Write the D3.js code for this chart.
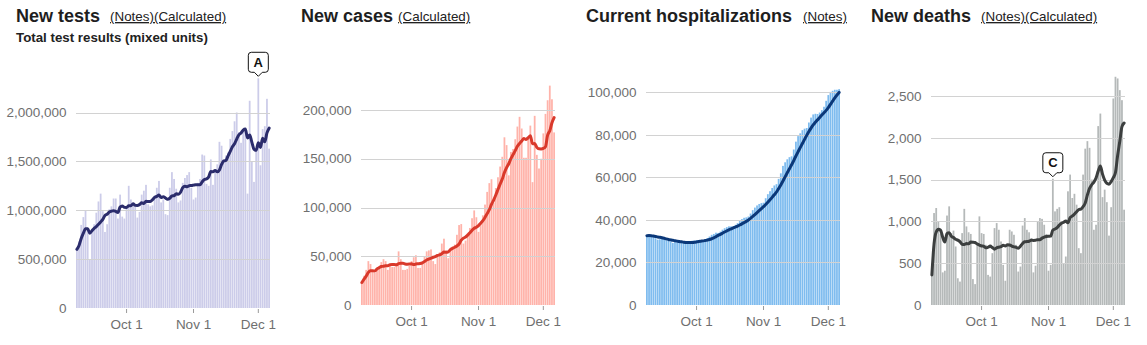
<!DOCTYPE html>
<html><head><meta charset="utf-8">
<script src="https://cdn.jsdelivr.net/npm/d3@7"></script>
<style>
body{margin:0;background:#fff;}
svg text{font-family:"Liberation Sans",Arial,Helvetica,sans-serif;}
</style></head><body>
<svg id="chart" width="1147" height="345"></svg>
<script>
// ---------- DATA ----------
const dates = d3.timeDay.range(new Date(2020, 8, 8), new Date(2020, 11, 7)); // Sep 8 – Dec 6, 2020
const xTickDates = [new Date(2020, 9, 1), new Date(2020, 10, 1), new Date(2020, 11, 1)];
const xTickLabels = ["Oct 1", "Nov 1", "Dec 1"];

const newTests = [600000, 680000, 850000, 930000, 1000000, 800000, 500000,
 770000, 857000, 975000, 1090000, 1170000, 990000, 778000,
 857000, 1010000, 1040000, 1120000, 1120000, 915000, 1160000,
 935000, 915000, 1030000, 1250000, 1110000, 1070000, 1040000,
 925000, 983000, 1160000, 1200000, 1260000, 1060000, 1040000,
 1050000, 1150000, 1230000, 1300000, 1080000, 1110000, 960000,
 950000, 1230000, 1390000, 1320000, 1220000, 1080000, 1100000,
 1280000, 1330000, 1360000, 1390000, 1230000, 1110000, 1130000,
 1280000, 1320000, 1570000, 1560000, 1270000, 1250000, 1520000,
 1260000, 1420000, 1470000, 1700000, 1660000, 1500000, 1560000,
 1590000, 1730000, 1810000, 1910000, 2000000, 1800000, 1690000,
 1800000, 1800000, 1170000, 2120000, 1500000, 1290000, 1610000,
 2350000, 1460000, 1830000, 1860000, 2140000, 1630000];

const newCases = [23000, 30000, 36000, 45000, 42000, 35000, 33000,
 38000, 39000, 44000, 47000, 45000, 36000, 40000,
 39000, 39000, 43000, 55000, 47000, 36000, 36000,
 37000, 40000, 45000, 49000, 51000, 38000, 38000,
 42000, 50000, 55000, 56000, 57000, 45000, 42000,
 51000, 54000, 63000, 68000, 56000, 48000, 58000,
 60000, 62000, 72000, 82000, 83000, 63000, 66000,
 74000, 79000, 89000, 97000, 90000, 75000, 83000,
 92000, 103000, 116000, 125000, 129000, 105000, 120000,
 131000, 142000, 152000, 172000, 164000, 133000, 157000,
 160000, 170000, 183000, 193000, 181000, 151000, 151000,
 172000, 184000, 126000, 194000, 154000, 140000, 150000,
 176000, 196000, 210000, 225000, 211000, 177000];

const currentHosp = [32600, 32700, 32500, 32000, 31400, 30700, 30900,
 31200, 30900, 30500, 30200, 29900, 29200, 29600,
 29900, 29600, 29400, 29200, 29000, 28900, 29600,
 30200, 30300, 30500, 30500, 30000, 29900, 30900,
 31500, 32200, 33000, 33400, 34000, 33900, 34500,
 35400, 36100, 36600, 37000, 37000, 36900, 37700,
 38500, 39500, 40400, 41000, 41200, 41600, 43000,
 44600, 45800, 46800, 47500, 47900, 48100, 50200,
 52100, 53500, 55000, 56200, 56800, 59300, 61900,
 65400, 67100, 68500, 69500, 69900, 73100, 76800,
 79400, 80700, 82200, 82900, 83200, 85800, 88100,
 89600, 89900, 89800, 90500, 91600, 93200, 96000,
 98700, 100200, 100700, 101200, 101200, 101500];

const newDeaths = [360, 1100, 1160, 1000, 850, 390, 410,
 1070, 1180, 860, 890, 700, 320, 280,
 860, 1150, 940, 870, 850, 310, 250,
 740, 1060, 860, 850, 720, 360, 340,
 620, 920, 980, 900, 760, 480, 290,
 720, 900, 880, 840, 720, 400, 460,
 950, 1040, 900, 870, 800, 390, 470,
 1000, 1040, 1030, 960, 850, 410, 480,
 1510, 1120, 1150, 1170, 1000, 500, 580,
 1360, 1560, 1280, 1330, 1200, 680, 620,
 1560, 1870, 1960, 1880, 1500, 900, 960,
 2140, 2290, 1290, 1380, 1230, 830, 1170,
 2470, 2730, 2710, 2570, 2450, 1140];

const testTicks = [0, 500000, 1000000, 1500000, 2000000];
const caseTicks = [0, 50000, 100000, 150000, 200000];
const hospTicks = [0, 20000, 40000, 60000, 80000, 100000];
const deathTicks = [0, 500, 1000, 1500, 2000, 2500];

const titles = ["New tests", "New cases", "Current hospitalizations", "New deaths"];
const links = ["(Notes)(Calculated)", "(Calculated)", "(Notes)", "(Notes)(Calculated)"];
const subtitles = ["Total test results (mixed units)", "", "", ""];
const annotations = [{panel: 0, date: new Date(2020, 11, 1), label: "A"},
                     {panel: 3, date: new Date(2020, 10, 3), label: "C"}];

// ---------- STYLE / LAYOUT ----------
const series = [newTests, newCases, currentHosp, newDeaths];
const ticks = [testTicks, caseTicks, hospTicks, deathTicks];
const barColors = ["#cccce9", "#ffb3aa", "#7fbcef", "#b5b9b9"];
const lineColors = ["#2b2c6c", "#d9392b", "#0b3879", "#3c3f3f"];
const layout = [
  {left: 76,  base: 308, topY: 112.5, titleX: 16,  gap: 10},
  {left: 361, base: 305, topY: 110,   titleX: 301, gap: 5},
  {left: 646, base: 305, topY: 92.3,  titleX: 586, gap: 11},
  {left: 931, base: 305, topY: 96,    titleX: 871, gap: 10}
];
const plotW = 194;
const fmt = d3.format(",");
const svg = d3.select("#chart");

function rolling(vals) {
  return vals.map((v, i) => d3.mean(vals.slice(Math.max(0, i - 6), i + 1)));
}

series.forEach((vals, p) => {
  const L = layout[p];
  const tk = ticks[p];
  const g = svg.append("g");
  const x = d3.scaleBand().domain(dates.map(d => +d)).range([L.left, L.left + plotW]).paddingInner(0.18).paddingOuter(0);
  const xc = d => x(+d) + x.bandwidth() / 2;
  const y = d3.scaleLinear().domain([0, tk[tk.length - 1]]).range([L.base, L.topY]);

  // title
  const t = g.append("text").attr("x", L.titleX).attr("y", 22)
    .attr("font-size", 18).attr("font-weight", "bold").attr("fill", "#1e1e1e").text(titles[p]);
  const tw = t.node().getComputedTextLength();
  g.append("text").attr("x", L.titleX + tw + L.gap).attr("y", 21)
    .attr("font-size", 13.4).attr("fill", "#222").style("text-decoration", "underline").text(links[p]);
  if (subtitles[p]) {
    g.append("text").attr("x", L.titleX).attr("y", 42).attr("font-size", 13.3)
      .attr("font-weight", "bold").attr("fill", "#222").text(subtitles[p]);
  }

  // bars
  g.append("g").selectAll("rect").data(vals).join("rect")
    .attr("x", (v, i) => x(+dates[i])).attr("width", x.bandwidth())
    .attr("y", v => y(v)).attr("height", v => L.base - y(v))
    .attr("fill", barColors[p]);

  // gridlines + y labels
  const gy = g.append("g");
  gy.selectAll("line").data(tk.slice(1)).join("line")
    .attr("x1", L.left).attr("x2", L.left + plotW)
    .attr("y1", d => Math.round(y(d)) + 0.5).attr("y2", d => Math.round(y(d)) + 0.5)
    .attr("stroke", "#d2d2d2").attr("stroke-width", 1.2);
  gy.selectAll("text").data(tk).join("text")
    .attr("x", L.left - 9.5).attr("y", d => y(d)).attr("dy", "0.35em")
    .attr("text-anchor", "end").attr("font-size", 13.5).attr("fill", "#6f6f6f")
    .text(d => fmt(d));

  // x ticks
  const gx = g.append("g");
  gx.selectAll("line").data(xTickDates).join("line")
    .attr("x1", d => xc(d)).attr("x2", d => xc(d))
    .attr("y1", L.base + 1).attr("y2", L.base + 5)
    .attr("stroke", "#9a9a9a").attr("stroke-width", 1);
  gx.selectAll("text").data(xTickDates).join("text")
    .attr("x", d => xc(d)).attr("y", L.base + 21)
    .attr("text-anchor", "middle").attr("font-size", 13.5).attr("fill", "#6f6f6f")
    .text((d, i) => xTickLabels[i]);

  // average line
  const avg = rolling(vals);
  const line = d3.line().x((v, i) => xc(dates[i])).y(v => y(v)).curve(d3.curveMonotoneX);
  g.append("path").datum(avg).attr("d", line).attr("fill", "none")
    .attr("stroke", lineColors[p]).attr("stroke-width", 3)
    .attr("stroke-linejoin", "round").attr("stroke-linecap", "round");

  // annotations
  annotations.filter(a => a.panel === p).forEach(a => {
    const idx = dates.findIndex(d => +d === +a.date);
    const cx = xc(a.date);
    const tip = y(vals[idx]) - 2;
    const w = 20, h = 20, ph = 4, pw = 4, r = 3;
    const top = tip - ph - h, l = cx - w / 2, rgt = cx + w / 2, bot = tip - ph;
    const path = `M${l + r},${top} H${rgt - r} Q${rgt},${top} ${rgt},${top + r} V${bot - r} Q${rgt},${bot} ${rgt - r},${bot} H${cx + pw} L${cx},${tip} L${cx - pw},${bot} H${l + r} Q${l},${bot} ${l},${bot - r} V${top + r} Q${l},${top} ${l + r},${top} Z`;
    g.append("path").attr("d", path).attr("fill", "#fff").attr("stroke", "#111").attr("stroke-width", 1);
    g.append("text").attr("x", cx).attr("y", top + h / 2).attr("dy", "0.36em")
      .attr("text-anchor", "middle").attr("font-size", 13).attr("font-weight", "bold")
      .attr("fill", "#111").text(a.label);
  });
});
</script>
</body></html>
